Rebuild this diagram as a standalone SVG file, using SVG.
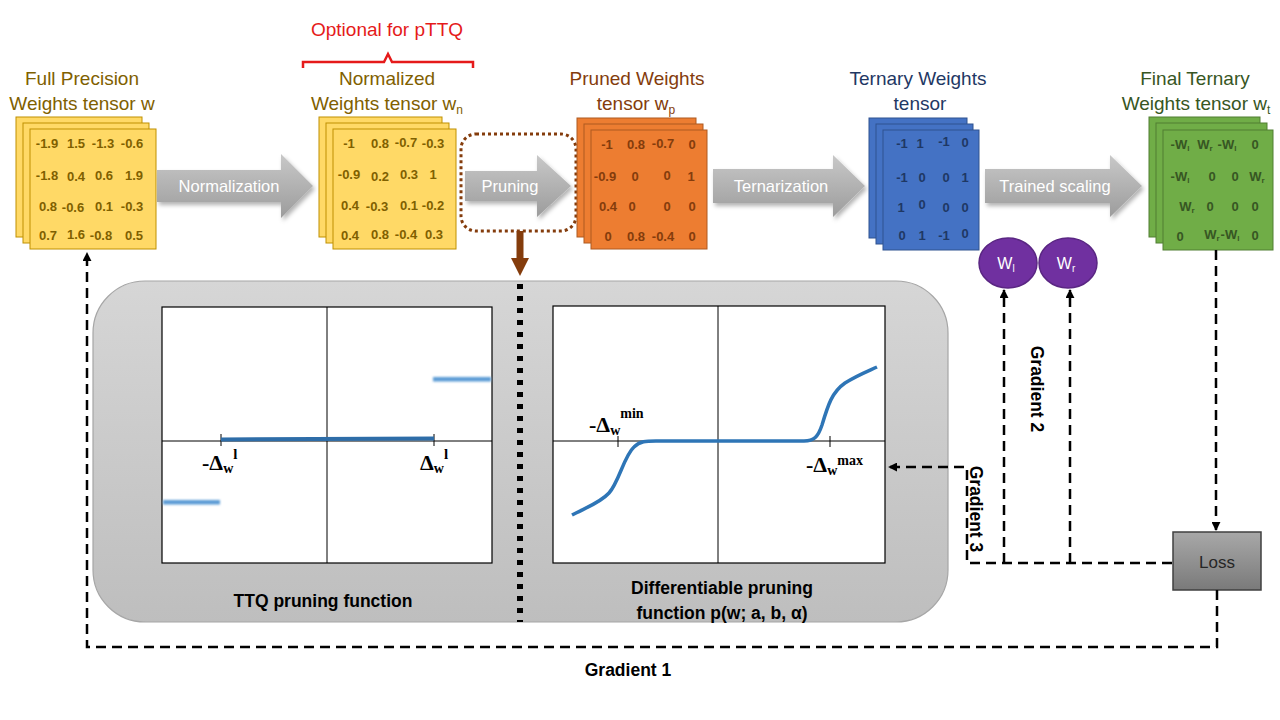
<svg xmlns="http://www.w3.org/2000/svg" width="1280" height="720" viewBox="0 0 1280 720">
<defs>
<style>
.hdr{font-family:"Liberation Sans",Arial,sans-serif;font-size:19px;text-anchor:middle}
.sub{font-size:12px}
.v{font-family:"Liberation Sans",Arial,sans-serif;font-weight:bold;font-size:13px;text-anchor:middle}
.vs{font-size:8px}
.arw{fill:url(#gArrow);filter:url(#shadow)}
.arwt{font-family:"Liberation Sans",Arial,sans-serif;font-size:16.5px;fill:#FFFFFF;text-anchor:middle}
.yel{fill:#FFD966;stroke:#BF9000;stroke-width:1}
.org{fill:#ED7D31;stroke:#AE5A21;stroke-width:1}
.blu{fill:#4472C4;stroke:#2F528F;stroke-width:1}
.grn{fill:#70AD47;stroke:#507E32;stroke-width:1}
.bl{font-family:"Liberation Sans",Arial,sans-serif;font-weight:bold;font-size:17.5px;fill:#000;text-anchor:middle}
.plot{fill:#FFFFFF;stroke:#000;stroke-width:1.2}
.ax{stroke:#000;stroke-width:1;fill:none}
.math{font-family:"Liberation Serif","Times New Roman",serif;font-weight:bold;fill:#000}
.dash{fill:none;stroke:#000;stroke-width:2.5;stroke-dasharray:10 6}
.seg{fill:#5B9BD5;filter:url(#soft)}
</style>
<linearGradient id="gArrow" x1="0" y1="0" x2="0" y2="1">
<stop offset="0" stop-color="#C8C8C8"/><stop offset="1" stop-color="#9C9C9C"/>
</linearGradient>
<linearGradient id="gPanel" x1="0" y1="0" x2="0" y2="1">
<stop offset="0" stop-color="#D6D6D6"/><stop offset="1" stop-color="#BEBEBE"/>
</linearGradient>
<linearGradient id="gLoss" x1="0" y1="0" x2="0" y2="1">
<stop offset="0" stop-color="#A8A8A8"/><stop offset="1" stop-color="#7A7A7A"/>
</linearGradient>
<filter id="shadow" x="-10%" y="-20%" width="130%" height="150%">
<feDropShadow dx="2" dy="3" stdDeviation="2" flood-color="#000" flood-opacity="0.3"/>
</filter>
<filter id="soft" filterUnits="userSpaceOnUse" x="150" y="300" width="360" height="280">
<feGaussianBlur stdDeviation="0.9"/>
</filter>
<marker id="ah" viewBox="0 0 10 10" refX="9" refY="5" markerWidth="9" markerHeight="9" markerUnits="userSpaceOnUse" orient="auto">
<path d="M0,0 L10,5 L0,10 z" fill="#000"/>
</marker>
</defs>
<rect width="1280" height="720" fill="#FFFFFF"/>

<g id="panel">
<rect x="93" y="281" width="855" height="341" rx="52" ry="52" fill="url(#gPanel)" stroke="#A6A6A6" stroke-width="1.2"/>
<line x1="520" y1="284" x2="520" y2="622" stroke="#000" stroke-width="6" stroke-dasharray="5 7"/>
</g>

<g id="ttq-plot">
<rect class="plot" x="162" y="307" width="330" height="256"/>
<line class="ax" x1="327" y1="307" x2="327" y2="563"/>
<line class="ax" x1="162" y1="441" x2="492" y2="441"/>
<line class="ax" x1="221" y1="434" x2="221" y2="446"/>
<line class="ax" x1="434" y1="434" x2="434" y2="446"/>
<line x1="221" y1="439.5" x2="434" y2="438.5" stroke="#2E6DA8" stroke-width="4"/>
<rect class="seg" x="433" y="377" width="58" height="4.5"/>
<rect class="seg" x="163" y="500" width="57" height="4.5"/>
<text class="math" x="202" y="470" font-size="22">-Δ<tspan font-size="14" dy="3">w</tspan><tspan font-size="15" dy="-14">l</tspan></text>
<text class="math" x="420" y="470" font-size="22">Δ<tspan font-size="14" dy="3">w</tspan><tspan font-size="15" dy="-14">l</tspan></text>
<text class="bl" x="323" y="607">TTQ pruning function</text>
</g>

<g id="diff-plot">
<rect class="plot" x="553" y="306" width="332" height="257"/>
<line class="ax" x1="718" y1="306" x2="718" y2="563"/>
<line class="ax" x1="553" y1="441" x2="885" y2="441"/>
<line class="ax" x1="618" y1="436" x2="618" y2="447"/>
<line class="ax" x1="830" y1="436" x2="830" y2="447"/>
<path d="M572,515 C585,508 600,503 609,493 C619,482 624,456 634,447 C640,441 646,441 656,441 L804,441 C814,441 818,437 822,425 C828,405 832,392 845,383 C856,376 866,372 877,367" fill="none" stroke="#2E75B6" stroke-width="3.5"/>
<text class="math" x="589" y="432" font-size="22">-Δ<tspan font-size="14" dy="3">w</tspan><tspan font-size="14" dy="-17">min</tspan></text>
<text class="math" x="806" y="472" font-size="22">-Δ<tspan font-size="14" dy="3">w</tspan><tspan font-size="14" dy="-10">max</tspan></text>
<text class="bl" x="722" y="594">Differentiable pruning</text>
<text class="bl" x="722" y="619">function p(w; a, b, α)</text>
</g>

<g id="normalization">
<polygon class="arw" points="157,170 281,170 281,154 313,186 281,218 281,202 157,202"/>
<text class="arwt" x="229" y="192">Normalization</text>
</g>
<g id="pruning">
<polygon class="arw" points="465,171 537,171 537,155 571,186 537,217 537,201 465,201"/>
<text class="arwt" x="510" y="192">Pruning</text>
<rect x="461" y="134" width="115" height="97" rx="15" ry="15" fill="none" stroke="#843C0C" stroke-width="3" stroke-dasharray="3 3"/>
<line x1="520" y1="231" x2="520" y2="259" stroke="#843C0C" stroke-width="7"/>
<polygon points="511,258 529,258 520,276" fill="#843C0C"/>
</g>
<g id="ternarization">
<polygon class="arw" points="713,169 833,169 833,155 865,186 833,217 833,203 713,203"/>
<text class="arwt" x="781" y="192">Ternarization</text>
</g>
<g id="trained-scaling">
<polygon class="arw" points="985,169 1110,169 1110,155 1142,186 1110,217 1110,203 985,203"/>
<text class="arwt" x="1055" y="192">Trained scaling</text>
</g>

<g id="optional">
<text class="hdr" x="387" y="36" fill="#E51A1A">Optional for pTTQ</text>
<path d="M303,68 L303,62 L384,62 L388,54 L392,62 L473,62 L473,68" fill="none" stroke="#E51A1A" stroke-width="2.5"/>
</g>

<g id="full-precision" fill="#7F6000">
<text class="hdr" x="82" y="85">Full Precision</text>
<text class="hdr" x="82" y="110">Weights tensor w</text>
<rect class="yel" x="16" y="117" width="126" height="120"/>
<rect class="yel" x="23" y="123" width="126" height="120"/>
<rect class="yel" x="30" y="129" width="126" height="120"/>
<g class="v">
<text x="47" y="148">-1.9</text><text x="76" y="148">1.5</text><text x="103" y="148">-1.3</text><text x="132" y="148">-0.6</text>
<text x="47" y="180">-1.8</text><text x="76" y="181">0.4</text><text x="104" y="180">0.6</text><text x="134" y="180">1.9</text>
<text x="48" y="211">0.8</text><text x="73" y="212">-0.6</text><text x="104" y="211">0.1</text><text x="132" y="211">-0.3</text>
<text x="48" y="240">0.7</text><text x="76" y="239">1.6</text><text x="101" y="240">-0.8</text><text x="134" y="240">0.5</text>
</g>
</g>

<g id="normalized" fill="#7F6000">
<text class="hdr" x="387" y="85">Normalized</text>
<text class="hdr" x="387" y="110">Weights tensor w<tspan class="sub" dy="4">n</tspan></text>
<rect class="yel" x="319" y="117" width="123" height="120"/>
<rect class="yel" x="326" y="123" width="123" height="120"/>
<rect class="yel" x="333" y="129" width="123" height="120"/>
<g class="v">
<text x="349" y="148">-1</text><text x="380" y="148">0.8</text><text x="406" y="147">-0.7</text><text x="433" y="148">-0.3</text>
<text x="349" y="179">-0.9</text><text x="380" y="181">0.2</text><text x="409" y="179">0.3</text><text x="433" y="179">1</text>
<text x="350" y="210">0.4</text><text x="377" y="211">-0.3</text><text x="409" y="210">0.1</text><text x="433" y="210">-0.2</text>
<text x="350" y="240">0.4</text><text x="380" y="239">0.8</text><text x="406" y="239">-0.4</text><text x="434" y="239">0.3</text>
</g>
</g>

<g id="pruned" fill="#843C0C">
<text class="hdr" x="637" y="85">Pruned Weights</text>
<text class="hdr" x="636" y="110">tensor w<tspan class="sub" dy="4">p</tspan></text>
<rect class="org" x="577" y="118" width="119" height="119"/>
<rect class="org" x="584" y="124" width="119" height="119"/>
<rect class="org" x="591" y="130" width="116" height="119"/>
<g class="v">
<text x="607" y="149">-1</text><text x="636" y="149">0.8</text><text x="663" y="148">-0.7</text><text x="692" y="149">0</text>
<text x="605" y="181">-0.9</text><text x="635" y="181">0</text><text x="667" y="180">0</text><text x="691" y="181">1</text>
<text x="608" y="211">0.4</text><text x="632" y="211">0</text><text x="667" y="211">0</text><text x="692" y="211">0</text>
<text x="608" y="241">0</text><text x="636" y="241">0.8</text><text x="663" y="241">-0.4</text><text x="692" y="241">0</text>
</g>
</g>

<g id="ternary" fill="#1F3864">
<text class="hdr" x="918" y="85">Ternary Weights</text>
<text class="hdr" x="920" y="110">tensor</text>
<rect class="blu" x="869" y="118" width="98" height="120"/>
<rect class="blu" x="876" y="124" width="97" height="120"/>
<rect class="blu" x="883" y="130" width="96" height="120"/>
<g class="v">
<text x="902" y="148">-1</text><text x="920" y="148">1</text><text x="944" y="146">-1</text><text x="965" y="147">0</text>
<text x="902" y="182">-1</text><text x="922" y="182">0</text><text x="946" y="182">0</text><text x="965" y="182">1</text>
<text x="901" y="212">1</text><text x="922" y="209">0</text><text x="946" y="212">0</text><text x="965" y="212">0</text>
<text x="902" y="240">0</text><text x="922" y="240">1</text><text x="944" y="240">-1</text><text x="965" y="238">0</text>
</g>
</g>

<g id="final" fill="#375623">
<text class="hdr" x="1195" y="85">Final Ternary</text>
<text class="hdr" x="1196" y="110">Weights tensor w<tspan class="sub" dy="4">t</tspan></text>
<rect class="grn" x="1149" y="117" width="111" height="120"/>
<rect class="grn" x="1156" y="123" width="111" height="120"/>
<rect class="grn" x="1163" y="130" width="110" height="120"/>
<g class="v">
<text x="1180" y="149">-W<tspan class="vs" dy="2">l</tspan></text><text x="1205" y="149">W<tspan class="vs" dy="2">r</tspan></text><text x="1227" y="149">-W<tspan class="vs" dy="2">l</tspan></text><text x="1255" y="149">0</text>
<text x="1180" y="181">-W<tspan class="vs" dy="2">l</tspan></text><text x="1212" y="181">0</text><text x="1235" y="181">0</text><text x="1257" y="181">W<tspan class="vs" dy="2">r</tspan></text>
<text x="1187" y="211">W<tspan class="vs" dy="2">r</tspan></text><text x="1210" y="211">0</text><text x="1235" y="211">0</text><text x="1255" y="211">0</text>
<text x="1180" y="241">0</text><text x="1212" y="239">W<tspan class="vs" dy="2">r</tspan></text><text x="1230" y="239">-W<tspan class="vs" dy="2">l</tspan></text><text x="1255" y="240">0</text>
</g>
</g>

<g id="wl">
<ellipse cx="1008" cy="263" rx="29" ry="25" fill="#7030A0" stroke="#5A2683" stroke-width="1.5"/>
<text x="1006" y="269" font-family="Liberation Sans, Arial, sans-serif" font-size="16" fill="#FFFFFF" text-anchor="middle">W<tspan font-size="10" dy="3">l</tspan></text>
</g>
<g id="wr">
<ellipse cx="1068" cy="263" rx="29" ry="25" fill="#7030A0" stroke="#5A2683" stroke-width="1.5"/>
<text x="1066" y="269" font-family="Liberation Sans, Arial, sans-serif" font-size="16" fill="#FFFFFF" text-anchor="middle">W<tspan font-size="10" dy="3">r</tspan></text>
</g>

<g id="loss">
<rect x="1173" y="532" width="88" height="58" fill="url(#gLoss)" stroke="#404040" stroke-width="1.5"/>
<text x="1217" y="568" font-family="Liberation Sans, Arial, sans-serif" font-size="17" fill="#262626" text-anchor="middle">Loss</text>
</g>

<g id="connectors">
<path class="dash" d="M1216,250 V530" marker-end="url(#ah)"/>
<path class="dash" d="M1217,590 V647 H87 V253" marker-end="url(#ah)"/>
<path class="dash" d="M1172,563 H967 V467 H889" marker-end="url(#ah)"/>
<path class="dash" d="M1004,563 V290" marker-end="url(#ah)"/>
<path class="dash" d="M1070,563 V290" marker-end="url(#ah)"/>
<text class="bl" x="628" y="676">Gradient 1</text>
<text class="bl" transform="translate(1031,389) rotate(90)" x="0" y="0">Gradient 2</text>
<text class="bl" transform="translate(970,509) rotate(90)" x="0" y="0">Gradient 3</text>
</g>
</svg>
